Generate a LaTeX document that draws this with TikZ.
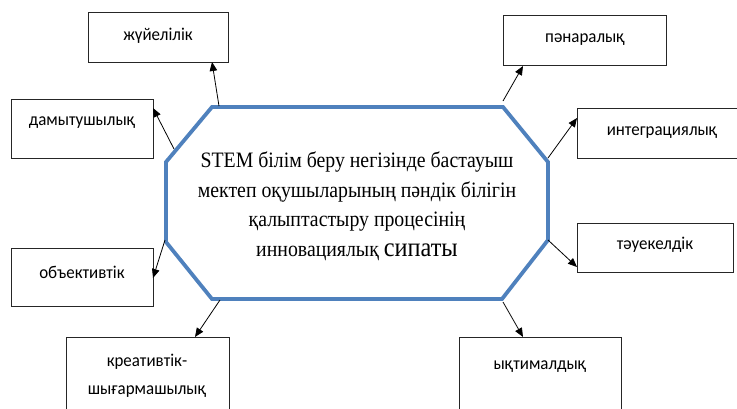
\documentclass[tikz,border=0pt]{standalone}
\usepackage{fontspec}
\setmainfont{Liberation Serif}
\newfontfamily\corefont[FakeStretch=0.9]{Liberation Serif}
\newfontfamily\labelfont[FakeStretch=0.94]{Carlito}
\usetikzlibrary{arrows.meta,calc}
\definecolor{octblue}{RGB}{79,129,189}
\begin{document}
\begin{tikzpicture}[x=1pt,y=-1pt,
  box/.style={draw=black!85,line width=0.9pt,fill=white},
  lbl/.style={font=\labelfont\fontsize{18}{20}\selectfont,inner sep=0pt,align=center},
  link/.style={line width=0.8pt,-{Triangle[length=9pt,width=7.5pt]}},
  frame/.style={draw=octblue,line width=3.8pt,line join=miter}]
\useasboundingbox (0,0) rectangle (737,408);
\clip (0,0) rectangle (737,408);

% central octagon
\coordinate (o1) at (212,107);
\coordinate (o2) at (503,107);
\coordinate (o3) at (548,162);
\coordinate (o4) at (548,240);
\coordinate (o5) at (502,299);
\coordinate (o6) at (212,299);
\coordinate (o7) at (166,242);
\coordinate (o8) at (166,162);
\draw[frame] (o1) -- (o2) -- (o3) -- (o4) -- (o5) -- (o6) -- (o7) -- (o8) -- cycle;

\node[inner sep=0pt,align=center,font=\corefont\fontsize{22}{29.5}\selectfont] (core) at (357,206)
  {STEM білім беру негізінде бастауыш\\
   мектеп оқушыларының пәндік білігін\\
   қалыптастыру процесінің\\
   инновациялық {\fontsize{27}{29.5}\selectfont сипаты}};

% surrounding boxes
\path[box] (88,12) rectangle (228,62);   \coordinate (b1) at (158,62);
\path[box] (503,15) rectangle (666,65);  \coordinate (b2) at (585,65);
\path[box] (11,99) rectangle (153,158);  \coordinate (b3) at (153,128);
\path[box] (577,108) rectangle (740,158);\coordinate (b4) at (577,133);
\path[box] (11,248) rectangle (153,306); \coordinate (b5) at (153,277);
\path[box] (577,223) rectangle (733,272);\coordinate (b6) at (577,247);
\path[box] (66,337) rectangle (229,415); \coordinate (b7) at (147,337);
\path[box] (459,337) rectangle (621,415);\coordinate (b8) at (540,337);

\node[lbl] (t1) at (158,36) {жүйелілік};
\node[lbl] (t2) at (585,40) {пәнаралық};
\node[lbl] (t3) at (82,123) {дамытушылық};
\node[lbl] (t4) at (662,133) {интеграциялық};
\node[lbl] (t5) at (82,272) {объективтік};
\node[lbl] (t6) at (655,245) {тәуекелдік};
\node[lbl,font=\labelfont\fontsize{18}{28}\selectfont] (t7) at (147,376) {креативтік-\\шығармашылық};
\node[lbl] (t8) at (540,367) {ықтималдық};

% connectors from the octagon outwards
\coordinate (s1) at (219,106);
\coordinate (s2) at (503,101);
\coordinate (s3) at (174,149);
\coordinate (s4) at (548,158);
\coordinate (s5) at (165,240);
\coordinate (s6) at (548,240);
\coordinate (s7) at (220,300);
\coordinate (s8) at (503,302);
\draw[link] (s1) -- ($(b1)+(54,0)$);
\draw[link] (s2) -- ($(b2)+(-62,1)$);
\draw[link] (s3) -- ($(b3)+(0,-20)$);
\draw[link] (s4) -- ($(b4)+(0,-15)$);
\draw[link] (s5) -- ($(b5)+(0,1)$);
\draw[link] (s6) -- ($(b6)+(0,20)$);
\draw[link] (s7) -- ($(b7)+(48,0)$);
\draw[link] (s8) -- ($(b8)+(-17,0)$);
\end{tikzpicture}
\end{document}
